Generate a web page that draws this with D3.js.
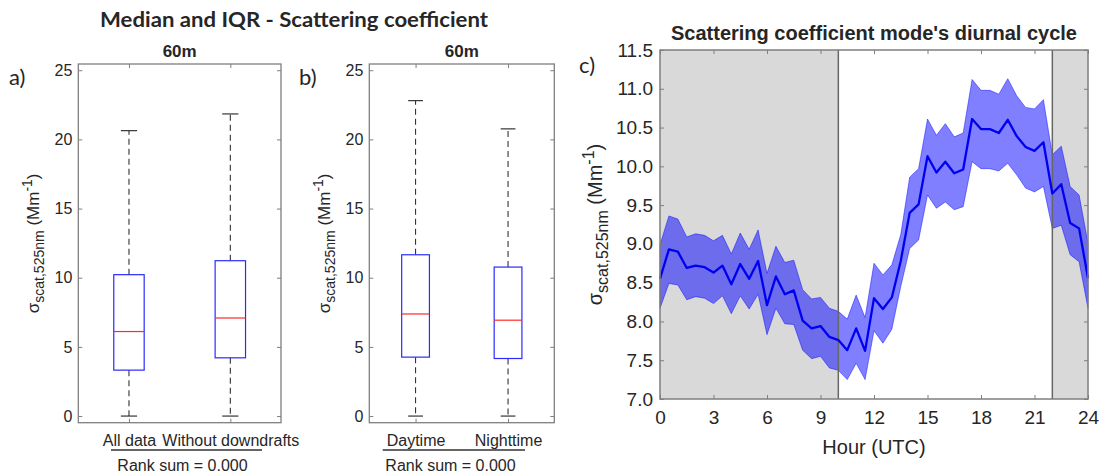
<!DOCTYPE html>
<html>
<head>
<meta charset="utf-8">
<script src="https://cdn.jsdelivr.net/npm/d3@7/dist/d3.min.js"></script>
<style>
  body { margin: 0; background: #fff; }
  text { font-family: "Liberation Sans", Arial, Helvetica, sans-serif; fill: #262626; }
</style>
</head>
<body>
<svg id="chart" width="1104" height="475"></svg>
<script>
// ---- Box plot data (scattering coefficient at 60 m, Mm^-1) ----
const labelsA = ["All data", "Without downdrafts"];
const lowA    = [0.0, 0.0];
const q1A     = [3.32, 4.21];
const medA    = [6.11, 7.09];
const q3A     = [10.22, 11.23];
const highA   = [20.63, 21.84];

const labelsB = ["Daytime", "Nighttime"];
const lowB    = [0.0, 0.0];
const q1B     = [4.26, 4.16];
const medB    = [7.38, 6.93];
const q3B     = [11.66, 10.77];
const highB   = [22.80, 20.76];

const boxTicks = [0, 5, 10, 15, 20, 25];

// ---- Diurnal cycle of the mode (half-hourly, 0..24 UTC) ----
const hours = d3.range(0, 24.001, 0.5);
const modeMean = [8.55, 8.93, 8.90, 8.69, 8.72, 8.70, 8.63, 8.72, 8.48, 8.74, 8.55, 8.78,
                  8.21, 8.58, 8.35, 8.40, 8.01, 7.91, 7.94, 7.80, 7.76, 7.63, 7.91, 7.62,
                  8.30, 8.16, 8.31, 8.78, 9.40, 9.51, 10.13, 9.92, 10.06, 9.91, 9.96, 10.61,
                  10.48, 10.48, 10.43, 10.60, 10.39, 10.25, 10.20, 10.31, 9.65, 9.77, 9.27, 9.20, 8.56];
const modeUpper = [8.99, 9.36, 9.32, 9.09, 9.13, 9.11, 9.04, 9.11, 8.87, 9.14, 8.93, 9.18,
                   8.62, 8.97, 8.76, 8.79, 8.41, 8.29, 8.31, 8.17, 8.13, 8.03, 8.34, 8.05,
                   8.75, 8.60, 8.73, 9.12, 9.86, 9.97, 10.61, 10.40, 10.55, 10.38, 10.43, 11.12,
                   10.98, 10.98, 10.93, 11.13, 10.91, 10.76, 10.74, 10.86, 10.15, 10.26, 9.74, 9.63, 9.01];
const modeLower = [8.17, 8.49, 8.47, 8.28, 8.32, 8.30, 8.23, 8.33, 8.10, 8.33, 8.16, 8.35,
                   7.83, 8.17, 7.97, 7.96, 7.63, 7.52, 7.55, 7.40, 7.37, 7.25, 7.46, 7.25,
                   7.88, 7.72, 7.90, 8.45, 8.94, 9.05, 9.63, 9.46, 9.54, 9.44, 9.48, 10.06,
                   9.97, 9.97, 9.94, 10.04, 9.89, 9.72, 9.67, 9.74, 9.20, 9.24, 8.86, 8.77, 8.17];
const nightSpans = [[0, 10], [22, 24]];
const hourTicks = [0, 3, 6, 9, 12, 15, 18, 21, 24];
const modeTicks = [7.0, 7.5, 8.0, 8.5, 9.0, 9.5, 10.0, 10.5, 11.0, 11.5];

const svg = d3.select("#chart");
svg.append("rect").attr("width", 1104).attr("height", 475).attr("fill", "#fff");

const AXIS_COLOR = "#7f7f7f";

// Rotated y label: sigma with subscript, units with superscript
function yLabel(g, x, y, size, subSize, shift) {
  const t = g.append("text")
    .attr("transform", `translate(${x},${y}) rotate(-90)`)
    .attr("text-anchor", "middle")
    .style("font-size", size + "px");
  t.append("tspan").text("σ");
  t.append("tspan").style("font-size", subSize + "px").attr("dy", shift).text("scat,525nm");
  t.append("tspan").attr("dy", -shift).text(" (Mm");
  t.append("tspan").style("font-size", subSize + "px").attr("dy", -shift - 2).text("-1");
  t.append("tspan").attr("dy", shift + 2).text(")");
}

// ---- Box plot panel ----
function boxPanel(opts) {
  const { left, right, labels, low, q1, med, q3, high } = opts;
  const top = 64, bottom = 422.7;
  const g = svg.append("g");
  const x = d3.scaleLinear().domain([0.5, 2.5]).range([left, right]);
  const y = d3.scaleLinear().domain([-0.48, 25.45]).range([bottom, top]);
  const idx = d3.range(labels.length);
  const unit = x(1) - x(0);

  // axes
  const yl = g.append("g").attr("transform", `translate(${left},0)`)
    .call(d3.axisLeft(y).tickValues(boxTicks).tickSize(-4).tickPadding(6));
  const yr = g.append("g").attr("transform", `translate(${right},0)`)
    .call(d3.axisRight(y).tickValues(boxTicks).tickSize(-4).tickFormat(""));
  const xb = g.append("g").attr("transform", `translate(0,${bottom})`)
    .call(d3.axisBottom(x).tickValues([1, 2]).tickSize(-4).tickPadding(12)
      .tickFormat((d, i) => labels[i]));
  const xt = g.append("g").attr("transform", `translate(0,${top})`)
    .call(d3.axisTop(x).tickValues([1, 2]).tickSize(-4).tickFormat(""));
  [yl, yr, xb, xt].forEach(a => {
    a.select(".domain").remove();
    a.selectAll("line").attr("stroke", AXIS_COLOR);
    a.selectAll("text").style("font-size", "16px").attr("fill", "#262626");
  });

  // whiskers
  const wh = g.append("g").attr("stroke", "#333").attr("stroke-width", 1.1)
    .attr("stroke-dasharray", "6,4");
  wh.selectAll(".up").data(idx).join("line")
    .attr("x1", i => x(i + 1)).attr("x2", i => x(i + 1))
    .attr("y1", i => y(q3[i])).attr("y2", i => y(high[i]));
  wh.selectAll(".dn").data(idx).join("line").attr("class", "dn")
    .attr("x1", i => x(i + 1)).attr("x2", i => x(i + 1))
    .attr("y1", i => y(q1[i])).attr("y2", i => y(low[i]));

  // caps
  const capHalf = 0.08 * unit;
  g.selectAll(".capHi").data(idx).join("line").attr("class", "capHi")
    .attr("x1", i => x(i + 1) - capHalf).attr("x2", i => x(i + 1) + capHalf)
    .attr("y1", i => y(high[i])).attr("y2", i => y(high[i]))
    .attr("stroke", "#222").attr("stroke-width", 1.1);
  g.selectAll(".capLo").data(idx).join("line").attr("class", "capLo")
    .attr("x1", i => x(i + 1) - capHalf).attr("x2", i => x(i + 1) + capHalf)
    .attr("y1", i => y(low[i])).attr("y2", i => y(low[i]))
    .attr("stroke", "#222").attr("stroke-width", 1.1);

  // boxes
  const halfW = 0.15 * unit;
  g.selectAll(".box").data(idx).join("rect").attr("class", "box")
    .attr("x", i => x(i + 1) - halfW).attr("width", 2 * halfW)
    .attr("y", i => y(q3[i])).attr("height", i => y(q1[i]) - y(q3[i]))
    .attr("fill", "none").attr("stroke", "#2a2aff").attr("stroke-width", 1.2);
  g.selectAll(".med").data(idx).join("line").attr("class", "med")
    .attr("x1", i => x(i + 1) - halfW).attr("x2", i => x(i + 1) + halfW)
    .attr("y1", i => y(med[i])).attr("y2", i => y(med[i]))
    .attr("stroke", "#ff2a2a").attr("stroke-width", 1.2);

  // frame
  g.append("rect").attr("x", left).attr("y", top)
    .attr("width", right - left).attr("height", bottom - top)
    .attr("fill", "none").attr("stroke", AXIS_COLOR).attr("stroke-width", 1.3);

  // subtitle
  g.append("text").attr("x", (left + right) / 2).attr("y", 57)
    .attr("text-anchor", "middle").style("font-size", "17px").style("font-weight", "bold")
    .attr("fill", "#111").text("60m");

  // y label
  yLabel(g, left - 39, (top + bottom) / 2, 17, 14, 5);

  // rank-sum annotation beneath the category labels
  g.append("line").attr("x1", opts.lineFrom).attr("x2", opts.lineTo)
    .attr("y1", 450).attr("y2", 450).attr("stroke", "#333").attr("stroke-width", 1.5);
  g.append("text").attr("x", opts.rankX).attr("y", 471)
    .attr("text-anchor", "middle").style("font-size", "16px").text("Rank sum = 0.000");

  // panel letter
  svg.append("text").attr("x", opts.letterX).attr("y", 85)
    .style("font-family", "Lato, 'Open Sans', sans-serif").style("font-size", "22px")
    .attr("fill", "#111").text(opts.letter);
}

boxPanel({ left: 78.3, right: 281, labels: labelsA, low: lowA, q1: q1A, med: medA, q3: q3A, high: highA,
  lineFrom: 111, lineTo: 262, rankX: 182.5, letter: "a)", letterX: 9 });
boxPanel({ left: 369.3, right: 554.3, labels: labelsB, low: lowB, q1: q1B, med: medB, q3: q3B, high: highB,
  lineFrom: 382.7, lineTo: 525, rankX: 450.5, letter: "b)", letterX: 299 });

// main title over the two box panels
svg.append("text").attr("x", 294).attr("y", 27).attr("text-anchor", "middle")
  .style("font-family", "Lato, 'Open Sans', sans-serif").style("font-size", "21px")
  .style("font-weight", "bold").attr("fill", "#000")
  .attr("textLength", 388).attr("lengthAdjust", "spacingAndGlyphs")
  .text("Median and IQR - Scattering coefficient");

// ---- Diurnal cycle panel ----
(function () {
  const left = 660, right = 1088, top = 50, bottom = 399;
  const g = svg.append("g");
  const x = d3.scaleLinear().domain([0, 24]).range([left, right]);
  const y = d3.scaleLinear().domain([7, 11.5]).range([bottom, top]);

  // night-time shading
  g.selectAll(".night").data(nightSpans).join("rect").attr("class", "night")
    .attr("x", d => x(d[0])).attr("width", d => x(d[1]) - x(d[0]))
    .attr("y", top).attr("height", bottom - top).attr("fill", "#d9d9d9");

  // interquartile band
  const pts = hours.map((h, i) => ({ h, lo: modeLower[i], hi: modeUpper[i], m: modeMean[i] }));
  g.append("path").datum(pts)
    .attr("d", d3.area().x(d => x(d.h)).y0(d => y(d.lo)).y1(d => y(d.hi)))
    .attr("fill", "rgba(0,0,255,0.5)").attr("stroke", "rgba(0,0,255,0.45)").attr("stroke-width", 1);

  // day/night boundaries
  g.selectAll(".edge").data([10, 22]).join("line").attr("class", "edge")
    .attr("x1", d => x(d)).attr("x2", d => x(d)).attr("y1", top).attr("y2", bottom)
    .attr("stroke", "#666").attr("stroke-width", 1.5);

  // mode line
  g.append("path").datum(pts)
    .attr("d", d3.line().x(d => x(d.h)).y(d => y(d.m)))
    .attr("fill", "none").attr("stroke", "#0000f0").attr("stroke-width", 2.3)
    .attr("stroke-linejoin", "round");

  // axes
  const ya = g.append("g").attr("transform", `translate(${left},0)`)
    .call(d3.axisLeft(y).tickValues(modeTicks).tickSize(-4).tickPadding(7).tickFormat(d3.format(".1f")));
  const yr = g.append("g").attr("transform", `translate(${right},0)`)
    .call(d3.axisRight(y).tickValues(modeTicks).tickSize(-4).tickFormat(""));
  const xa = g.append("g").attr("transform", `translate(0,${bottom})`)
    .call(d3.axisBottom(x).tickValues(hourTicks).tickSize(-4).tickPadding(12));
  const xt = g.append("g").attr("transform", `translate(0,${top})`)
    .call(d3.axisTop(x).tickValues(hourTicks).tickSize(-4).tickFormat(""));
  [ya, yr, xa, xt].forEach(a => {
    a.select(".domain").remove();
    a.selectAll("line").attr("stroke", AXIS_COLOR);
    a.selectAll("text").style("font-size", "19px").attr("fill", "#262626");
  });

  g.append("rect").attr("x", left).attr("y", top)
    .attr("width", right - left).attr("height", bottom - top)
    .attr("fill", "none").attr("stroke", AXIS_COLOR).attr("stroke-width", 1.5);

  g.append("text").attr("x", (left + right) / 2).attr("y", 40)
    .attr("text-anchor", "middle").style("font-size", "20px").style("font-weight", "bold")
    .attr("fill", "#111").text("Scattering coefficient mode's diurnal cycle");

  g.append("text").attr("x", (left + right) / 2).attr("y", 454)
    .attr("text-anchor", "middle").style("font-size", "20px").text("Hour (UTC)");

  yLabel(g, 602, (top + bottom) / 2, 20, 16, 6);

  svg.append("text").attr("x", 579).attr("y", 73)
    .style("font-family", "Lato, 'Open Sans', sans-serif").style("font-size", "22px")
    .attr("fill", "#111").text("c)");
})();
</script>
</body>
</html>
